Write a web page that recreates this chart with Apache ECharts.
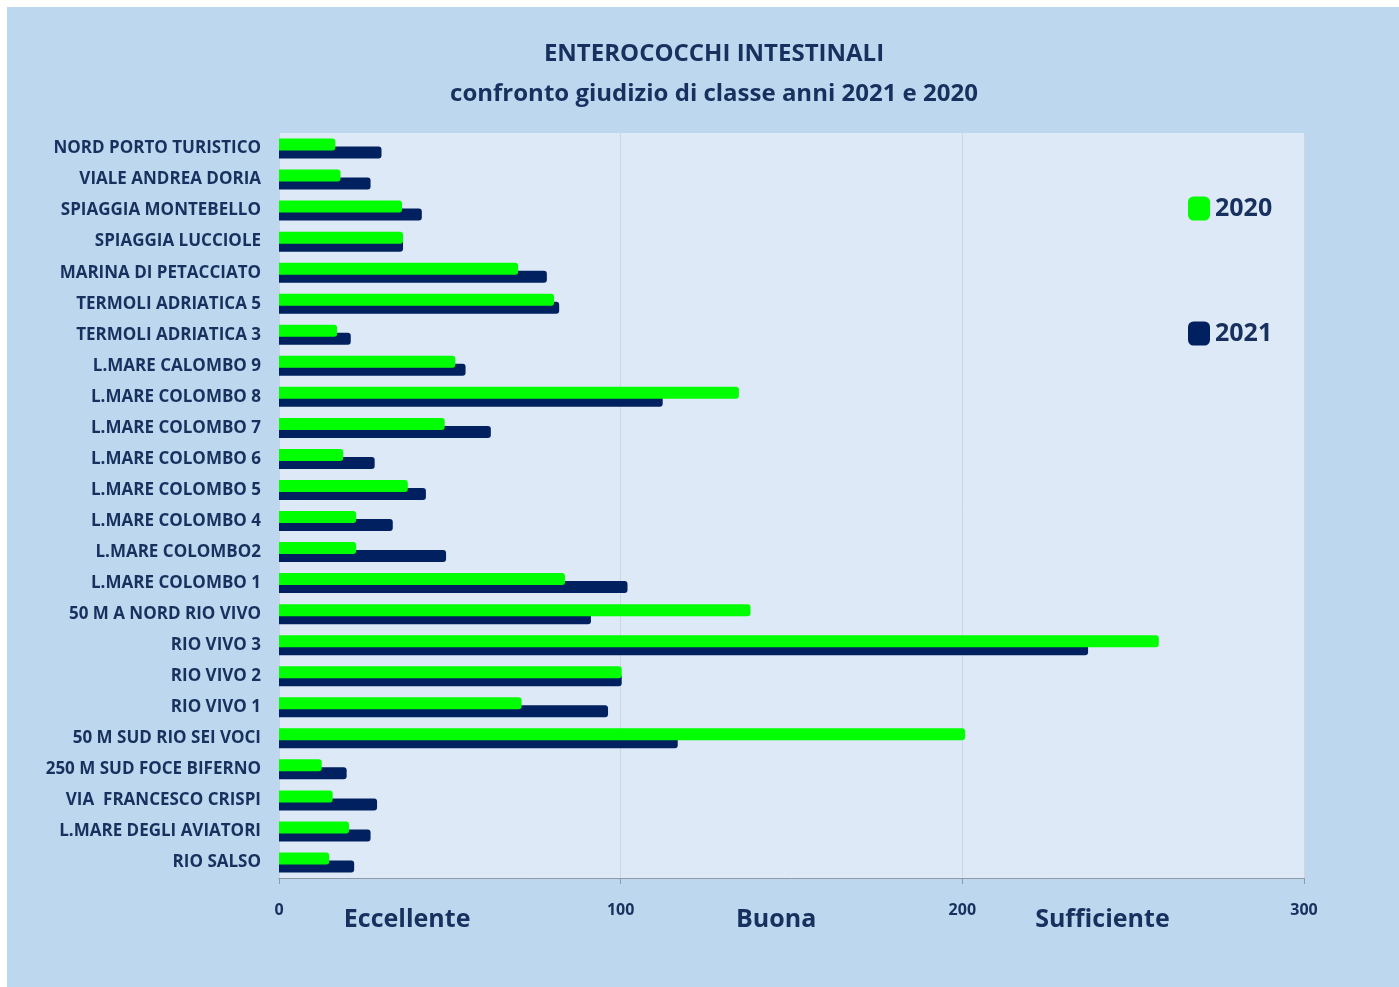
<!DOCTYPE html>
<html><head><meta charset="utf-8">
<script src="https://cdn.jsdelivr.net/npm/echarts@6/dist/echarts.min.js"></script>
<style>html,body{margin:0;padding:0;background:#fff;}#c{position:absolute;left:7px;top:7px;width:1392px;height:980px;}</style>
</head><body><div id="c"></div>
<script>
const categories = ['NORD PORTO TURISTICO','VIALE ANDREA DORIA','SPIAGGIA MONTEBELLO','SPIAGGIA LUCCIOLE','MARINA DI PETACCIATO','TERMOLI ADRIATICA 5','TERMOLI ADRIATICA 3','L.MARE CALOMBO 9','L.MARE COLOMBO 8','L.MARE COLOMBO 7','L.MARE COLOMBO 6','L.MARE COLOMBO 5','L.MARE COLOMBO 4','L.MARE COLOMBO2','L.MARE COLOMBO 1','50 M A NORD RIO VIVO','RIO VIVO 3','RIO VIVO 2','RIO VIVO 1','50 M SUD RIO SEI VOCI','250 M SUD FOCE BIFERNO','VIA  FRANCESCO CRISPI','L.MARE DEGLI AVIATORI','RIO SALSO'];
const values2020 = [16.5,18,36,36.3,70,80.5,17,51.6,134.6,48.5,18.8,37.7,22.6,22.6,83.7,138,257.5,100.3,71,200.8,12.5,15.7,20.5,14.7];
const values2021 = [30,26.8,41.8,36.3,78.4,82,21,54.6,112.3,62,28,43,33.3,48.9,102,91.3,236.8,100.3,96.3,116.7,19.8,28.7,26.8,22];
const seriesNames = ['2020','2021'];
const xTicks = [0,100,200,300];
const classLabels = ['Eccellente','Buona','Sufficiente'];
const classPos = [37.5,145.5,241];

const navy = '#17305e';
const FONT = '"Open Sans",sans-serif';
const chart = echarts.init(document.getElementById('c'));
chart.setOption({
  backgroundColor: '#bdd7ee',
  animation: false,
  title: {
    text: 'ENTEROCOCCHI INTESTINALI\nconfronto giudizio di classe anni 2021 e 2020',
    left: 702, top: 22, textAlign: 'center',
    textStyle: {fontFamily: FONT, fontSize: 24, fontWeight: 'bold', color: navy, lineHeight: 40}
  },
  legend: {
    orient: 'vertical', left: 1176, top: 184, itemGap: 100,
    itemWidth: 22, itemHeight: 24, icon: 'roundRect',
    data: seriesNames,
    textStyle: {fontFamily: FONT, fontSize: 25, fontWeight: 'bold', color: navy, padding: [0,0,0,0]}
  },
  grid: {left: 272, top: 126, right: 95, bottom: 109, show: true, backgroundColor: '#dde9f7', borderWidth: 0},
  xAxis: {
    type: 'value', min: 0, max: 300, interval: 100,
    axisLine: {show: true, lineStyle: {color: '#8e9aa6', width: 1}},
    axisTick: {show: true, length: 6, lineStyle: {color: '#8e9aa6'}},
    splitLine: {show: true, lineStyle: {color: '#cdd6df', width: 1}},
    axisLabel: {margin: 24, fontFamily: FONT, fontSize: 16, fontWeight: 'bold', color: navy,
      formatter: v => xTicks.includes(v) ? String(v) : ''}
  },
  yAxis: {
    type: 'category', data: categories, inverse: true,
    axisLine: {show: true, lineStyle: {color: '#c6d6e6'}},
    axisTick: {show: false},
    axisLabel: {margin: 18, fontFamily: FONT, fontSize: 17, fontWeight: 'bold', color: navy, padding: [5,0,0,0]}
  },
  series: [
    {name: seriesNames[0], type: 'bar', data: values2020, barWidth: 12, barGap: '-33%', z: 3,
      itemStyle: {color: '#00ff00', borderRadius: [0,3,3,0]}},
    {name: seriesNames[1], type: 'bar', data: values2021, barWidth: 12, z: 2,
      itemStyle: {color: '#002060', borderRadius: [0,3,3,0]}}
  ]
});
chart.setOption({
  graphic: classLabels.map((t, i) => ({
    type: 'text',
    x: chart.convertToPixel({xAxisIndex: 0}, classPos[i]),
    y: 913,
    style: {text: t, fontFamily: FONT, fontSize: 25, fontWeight: 'bold', fill: navy, align: 'center', verticalAlign: 'middle'}
  }))
});
</script></body></html>
